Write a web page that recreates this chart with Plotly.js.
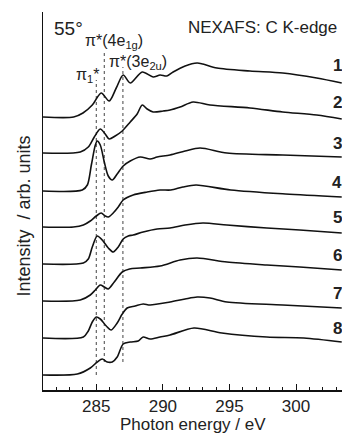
<!DOCTYPE html>
<html>
<head>
<meta charset="utf-8">
<script src="https://cdn.plot.ly/plotly-3.0.1.min.js"></script>
<style>html,body{margin:0;padding:0;background:#fff;}#chart{width:342px;height:434px;}</style>
</head>
<body>
<div id="chart"></div>
<script>
// Photon energy (eV) and intensity (arb. units, offset per spectrum)
const energy1 = [281.0,283.3,284.0,284.7,285.37,285.97,286.5,287.02,287.55,288.45,289.27,289.79,290.3,290.77,291.67,292.57,293.0,294.06,296.54,299.0,301.55,303.43];
const intensity1 = [273,273,277,285,297,289,302,315,307,318,313,315,314,318,324,327,326,322,319,317,312,307];

const energy2 = [281.0,283.8,284.4,284.85,285.3,285.67,285.97,286.42,286.95,287.55,288.07,288.45,288.82,289.27,290.02,290.54,291.29,292.27,293.54,296.54,299.0,301.55,303.43];
const intensity2 = [237,238,243,253,261,256,251,254,259,268,276,285,281,278,279,280,283,288,285,282,278,275,271];

const energy3 = [281.0,283.95,284.33,284.63,284.93,285.07,285.3,285.6,285.9,286.2,286.57,287.02,287.55,288.3,289.04,289.57,290.54,291.67,292.79,294.81,299.0,303.43];
const intensity3 = [199,200,205,225,245,249,245,228,214,210,216,224,229,233,231,233,235,239,242,237,235,233];

const energy4 = [281.0,283.28,284.03,284.55,285.0,285.37,285.67,285.9,286.27,286.65,287.02,287.77,288.82,289.79,290.6,291.5,292.49,295.1,299.2,303.43];
const intensity4 = [163,163,165,169,174,177,174,173,177,183,190,195,198,200,200,203,205,200,196,193];

const energy5 = [281.0,284.03,284.4,284.7,285.07,285.45,285.9,286.27,286.65,287.02,287.4,287.77,288.52,289.57,290.54,291.67,293.01,294.81,297.81,300.28,303.43];
const intensity5 = [126,127,131,143,154,150,142,138,143,151,154,155,158,161,162,165,167,165,162,160,157];

const energy6 = [281.0,283.8,284.55,284.93,285.3,285.6,285.9,286.35,286.95,287.5,288.3,289.79,291.29,292.57,294.81,297.81,300.28,303.43];
const intensity6 = [89,90,95,100,105,103,101,108,118,121,122,124,130,132,128,125,123,120];

const energy7 = [281.0,284.03,284.4,284.7,285.0,285.3,285.75,286.12,286.57,286.95,287.32,287.92,288.52,289.04,290.54,291.67,292.57,293.54,294.81,299.0,303.43];
const intensity7 = [52,53,59,68,73,71,64,60,67,76,82,84,86,85,88,91,93,92,88,85,82];

const energy8 = [281.0,283.58,284.55,285.07,285.45,285.82,286.2,286.57,287.02,287.55,288.15,288.52,289.04,289.79,290.54,292.34,294.43,297.81,300.58,303.43];
const intensity8 = [15,16,22,28,31,28,28,33,46,48,49,53,51,53,55,62,57,53,52,48];

// Resonance markers (eV) and the vertical extent of each dotted line
const resonanceEnergies = [285.0, 285.6, 287.0];
const resonanceTop = [310, 338, 323];
const resonanceBottom = [15, 28, 28];
const resonanceLabels = ['π<sub>1</sub>*', 'π*(4e<sub>1g</sub>)', 'π*(3e<sub>2u</sub>)'];
const resonanceLabelX = [284.35, 286.35, 288.1];
const resonanceLabelY = [315, 349, 328];

const spectrumLabels = ['1','2','3','4','5','6','7','8'];
const spectrumLabelY = [325, 288, 247, 208, 173, 135, 97, 62];

const energies = [energy1, energy2, energy3, energy4, energy5, energy6, energy7, energy8];
const intensities = [intensity1, intensity2, intensity3, intensity4, intensity5, intensity6, intensity7, intensity8];

const FONT = 'Liberation Sans, Arial, sans-serif';
const NARROW = 'Liberation Sans Narrow, Arial Narrow, Liberation Sans, sans-serif';

const traces = [];
resonanceEnergies.forEach((e, i) => {
  traces.push({
    x: [e, e], y: [resonanceBottom[i], resonanceTop[i]],
    mode: 'lines', line: {color: '#444', width: 1, dash: 'dot'},
    hoverinfo: 'skip', showlegend: false
  });
});
energies.forEach((ex, i) => {
  traces.push({
    x: ex, y: intensities[i], mode: 'lines',
    line: {color: '#111', width: 1.6, shape: 'spline', smoothing: 0.8},
    showlegend: false
  });
});

const annotations = [];
resonanceLabels.forEach((t, i) => {
  annotations.push({text: t, x: resonanceLabelX[i], y: resonanceLabelY[i], xref: 'x', yref: 'y',
    showarrow: false, xanchor: 'center', yanchor: 'middle', font: {family: NARROW, size: 16, color: '#222'}});
});
spectrumLabels.forEach((t, i) => {
  annotations.push({text: '<b>' + t + '</b>', x: 1, y: spectrumLabelY[i], xref: 'paper', yref: 'y',
    showarrow: false, xanchor: 'right', yanchor: 'middle', xshift: 2, font: {family: FONT, size: 17, color: '#222'}});
});
annotations.push({text: '55°', x: 0.03, y: 362, xref: 'paper', yref: 'y', showarrow: false,
  xanchor: 'left', yanchor: 'middle', font: {family: NARROW, size: 19, color: '#222'}});
annotations.push({text: 'NEXAFS: C K-edge', x: 0.99, y: 363, xref: 'paper', yref: 'y', showarrow: false,
  xanchor: 'right', yanchor: 'middle', font: {family: NARROW, size: 17, color: '#222'}});
annotations.push({text: 'Intensity  / arb. units', x: -0.065, y: 174, xref: 'paper', yref: 'y', showarrow: false,
  textangle: -90, xanchor: 'center', yanchor: 'middle', font: {family: FONT, size: 18, color: '#222'}});
annotations.push({text: 'Photon energy / eV', x: 0.5, y: 0, xref: 'paper', yref: 'paper', showarrow: false,
  xanchor: 'center', yanchor: 'top', yshift: -23, font: {family: FONT, size: 17, color: '#222'}});

const layout = {
  width: 342, height: 434,
  margin: {l: 43, r: 0, t: 12, b: 44},
  paper_bgcolor: '#fff', plot_bgcolor: '#fff',
  xaxis: {
    range: [281.0, 303.45], showgrid: false, zeroline: false,
    showline: true, linecolor: '#111', linewidth: 1.5,
    ticks: 'inside', ticklen: 6, tickcolor: '#111', tickwidth: 1,
    tick0: 285, dtick: 5,
    minor: {ticks: 'inside', dtick: 1, ticklen: 3, tickcolor: '#111', tickwidth: 1},
    tickfont: {family: FONT, size: 17, color: '#222'}
  },
  yaxis: {
    range: [0, 378], showgrid: false, zeroline: false,
    showline: true, linecolor: '#111', linewidth: 1.5,
    ticks: '', showticklabels: false
  },
  annotations: annotations
};

Plotly.newPlot('chart', traces, layout, {displayModeBar: false, staticPlot: true});
</script>
</body>
</html>
